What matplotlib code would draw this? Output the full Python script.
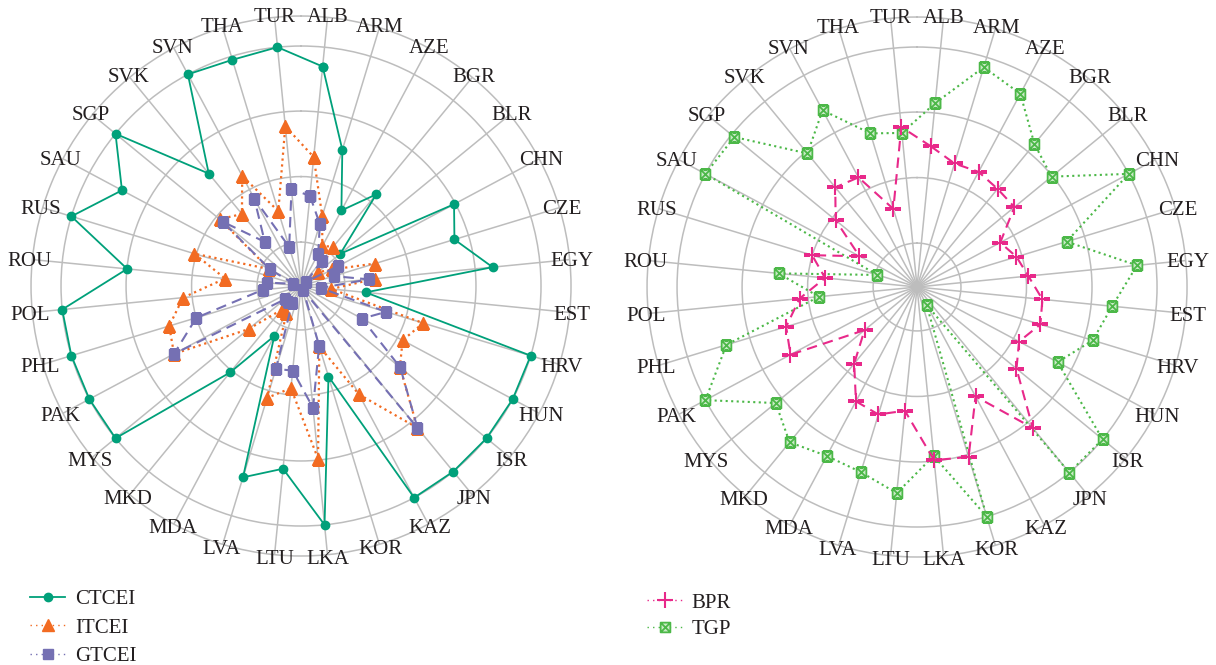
import numpy as np
import matplotlib
matplotlib.use('Agg')
import matplotlib.pyplot as plt
from matplotlib.path import Path
from matplotlib.lines import Line2D

# ---------------- data ----------------
countries = ['ALB', 'ARM', 'AZE', 'BGR', 'BLR', 'CHN', 'CZE', 'EGY', 'EST', 'HRV',
             'HUN', 'ISR', 'JPN', 'KAZ', 'KOR', 'LKA', 'LTU', 'LVA', 'MDA', 'MKD',
             'MYS', 'PAK', 'PHL', 'POL', 'ROU', 'RUS', 'SAU', 'SGP', 'SVK', 'SVN',
             'THA', 'TUR']

ctcei = [0.919, 0.593, 0.357, 0.494, 0.212, 0.723, 0.668, 0.802, 0.271, 1.000,
         1.000, 1.000, 1.000, 1.000, 0.394, 1.000, 0.765, 0.833, 0.236, 0.466,
         1.000, 1.000, 1.000, 1.000, 0.728, 1.000, 0.846, 1.000, 0.606, 1.000,
         0.985, 1.000]
itcei = [0.540, 0.304, 0.188, 0.213, 0.090, 0.146, 0.323, 0.311, 0.127, 0.532,
         0.480, 0.533, 0.765, 0.512, 0.263, 0.723, 0.428, 0.487, 0.129, 0.128,
         0.283, 0.600, 0.574, 0.494, 0.318, 0.465, 0.150, 0.439, 0.388, 0.520,
         0.326, 0.669]
gtcei = [0.378, 0.270, 0.152, 0.137, 0.029, 0.176, 0.142, 0.284, 0.082, 0.371,
         0.288, 0.535, 0.765, 0.021, 0.260, 0.510, 0.354, 0.361, 0.078, 0.085,
         0.088, 0.600, 0.456, 0.160, 0.143, 0.033, 0.146, 0.422, 0.238, 0.413,
         0.170, 0.405]
bpr = [0.589, 0.538, 0.544, 0.529, 0.525, 0.393, 0.433, 0.466, 0.525, 0.537,
       0.482, 0.536, 0.760, 0.517, 0.740, 0.725, 0.518, 0.555, 0.540, 0.413,
       0.283, 0.598, 0.570, 0.492, 0.385, 0.457, 0.272, 0.439, 0.537, 0.518,
       0.340, 0.670]
tgp = [0.770, 0.957, 0.913, 0.771, 0.725, 1.000, 0.651, 0.921, 0.817, 0.765,
       0.664, 1.000, 1.000, 0.084, 1.000, 0.707, 0.863, 0.806, 0.798, 0.837,
       0.762, 1.000, 0.830, 0.411, 0.580, 0.173, 1.000, 0.985, 0.720, 0.835,
       0.669, 0.645]

ring_values = [0.183, 0.456, 0.729, 1.0]
r_max = 1.125

# ---------------- style ----------------
plt.rcParams['font.family'] = ['Liberation Serif', 'DejaVu Serif']
TXT = '#231f20'
GRID = '#bdbdbd'
C_CT, C_IT, C_GT = '#00a07a', '#f26b22', '#7570b3'
C_BPR, C_TGP = '#e8298a', '#4cb848'
TGP_FILL = '#c9eac6'

# boxed-X marker
bx_verts = [(-1, -1), (1, -1), (1, 1), (-1, 1), (-1, -1),
            (-1, -1), (1, 1), (-1, 1), (1, -1)]
bx_codes = [Path.MOVETO, Path.LINETO, Path.LINETO, Path.LINETO, Path.CLOSEPOLY,
            Path.MOVETO, Path.LINETO, Path.MOVETO, Path.LINETO]
boxx = Path(bx_verts, bx_codes)

n = len(countries)
theta = np.deg2rad(180.0 / n + 360.0 / n * np.arange(n))
theta_c = np.append(theta, theta[0])


def close(v):
    return np.append(v, v[0])


fig = plt.figure(figsize=(12.16, 6.65), dpi=100)
ax1 = fig.add_axes([0.0255, 0.1639, 0.4441, 0.812], projection='polar')
ax2 = fig.add_axes([0.5321, 0.1624, 0.4441, 0.812], projection='polar')


def setup(ax):
    ax.set_theta_zero_location('N')
    ax.set_theta_direction(-1)
    ax.set_ylim(0, r_max)
    ax.set_yticks(ring_values)
    ax.set_yticklabels([])
    ax.set_xticks(theta)
    ax.set_xticklabels([])
    ax.tick_params(length=0)
    ax.grid(True, color=GRID, lw=1.1)
    ax.spines['polar'].set_color(GRID)
    ax.spines['polar'].set_linewidth(1.1)
    ax.set_axisbelow(True)
    for t, lab in zip(theta, countries):
        ax.text(t, 1.135, lab, ha='center', va='center_baseline', fontsize=15,
                color=TXT, zorder=5)


setup(ax1)
setup(ax2)

ax1.plot(theta_c, close(ctcei), color=C_CT, ls='-', lw=1.3,
         marker='o', ms=6, mec=C_CT, mfc=C_CT, zorder=3)
ax1.plot(theta_c, close(itcei), color=C_IT, ls=':', lw=1.6,
         marker='^', ms=8, mec=C_IT, mfc=C_IT, zorder=4)
ax1.plot(theta_c, close(gtcei), color=C_GT, ls=(0, (5, 3)), lw=1.5,
         marker='s', ms=6.5, mec=C_GT, mfc=C_GT, zorder=5)

ax2.plot(theta_c, close(tgp), color=C_TGP, ls=':', lw=1.5,
         marker=boxx, ms=7, mec=C_TGP, mfc=TGP_FILL, mew=1.3, zorder=3)
ax2.plot(theta_c, close(bpr), color=C_BPR, ls=(0, (5, 3)), lw=1.5,
         marker='+', ms=11, mec=C_BPR, mew=1.5, zorder=4)

# legend proxies (legend keys drawn thin/dotted as in the original)
h1 = Line2D([], [], color=C_CT, ls='-', lw=1.3, marker='o', ms=6)
h2 = Line2D([], [], color=C_IT, ls=(0, (1, 3)), lw=1.0, marker='^', ms=8)
h3 = Line2D([], [], color=C_GT, ls=(0, (1, 3)), lw=1.0, marker='s', ms=6.5)
h4 = Line2D([], [], color=C_BPR, ls=(0, (1, 3)), lw=1.0, marker='+', ms=11, mew=1.5)
h5 = Line2D([], [], color=C_TGP, ls=(0, (1, 3)), lw=1.0, marker=boxx, ms=7,
            mec=C_TGP, mfc=TGP_FILL, mew=1.3)

leg_kw = dict(frameon=False, fontsize=15, handlelength=1.7, handletextpad=0.45,
              borderpad=0, borderaxespad=0, labelcolor=TXT)
fig.legend([h1, h2, h3], ['CTCEI', 'ITCEI', 'GTCEI'], loc='upper left',
           bbox_to_anchor=(0.0247, 0.113), labelspacing=0.42, **leg_kw)
fig.legend([h4, h5], ['BPR', 'TGP'], loc='upper left',
           bbox_to_anchor=(0.532, 0.108), labelspacing=0.33, **leg_kw)

fig.savefig('out.png', dpi=100)
